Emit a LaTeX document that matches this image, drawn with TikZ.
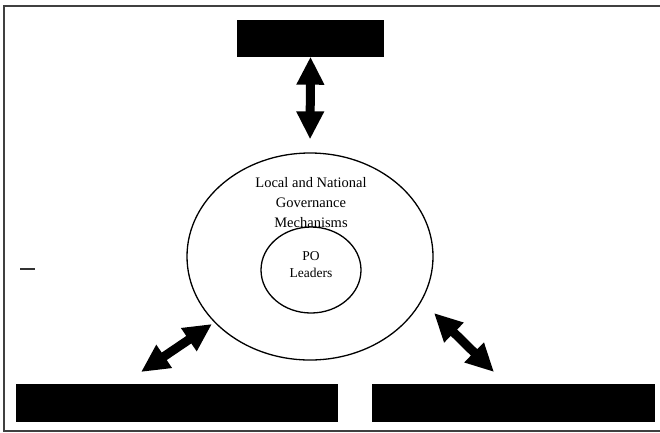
\documentclass[tikz,border=0pt]{standalone}
\usepackage{fontspec}
\setmainfont{Liberation Serif}
\usetikzlibrary{shapes.geometric,arrows.meta}

\tikzset{
  blackbox/.style={draw=none, fill=black, inner sep=0pt},
  ring/.style={draw, ellipse, line width=1.3pt, inner sep=0pt},
  fatarrow/.style={line width=9pt, {Triangle[width=26pt,length=28pt]}-{Triangle[width=26pt,length=28pt]}},
}

\begin{document}
\begin{tikzpicture}[x=1pt,y=-1pt]
    \useasboundingbox (0,0) rectangle (660,432);
    % frame (open on the right)
    \draw[line width=1.5pt, black!75] (664,6) -- (4,6) -- (4,431) -- (664,431);

    \node(top)[blackbox, minimum width=147pt, minimum height=37pt] at (310.5,38) {};
    \node(left)[blackbox, minimum width=322pt, minimum height=38pt] at (177,403) {};
    \node(right)[blackbox, minimum width=283pt, minimum height=38pt] at (513.5,403) {};

    \node(outer)[ring, minimum width=246pt, minimum height=207pt] at (310,256.5) {};
    \node(inner)[ring, minimum width=100pt, minimum height=86pt] at (311,270) {};
    \node(gov)[align=center, font=\fontsize{14.5}{20}\selectfont] at (311,203) {Local and National\\Governance\\Mechanisms};
    \node(po)[align=center, font=\fontsize{13.5}{17}\selectfont] at (311,265) {PO\\Leaders};

    \coordinate(la1) at (141,372);
    \coordinate(la2) at (212,324);
    \coordinate(ra1) at (434,313);
    \coordinate(ra2) at (494,372);

    \draw[fatarrow, shorten >=13pt] (top.south) -- (outer.north);
    \draw[fatarrow] (la1) -- (la2);
    \draw[fatarrow] (ra1) -- (ra2);

    % stray mark
    \draw[line width=2pt, black!80] (20,269) -- (35,269);
\end{tikzpicture}
\end{document}
